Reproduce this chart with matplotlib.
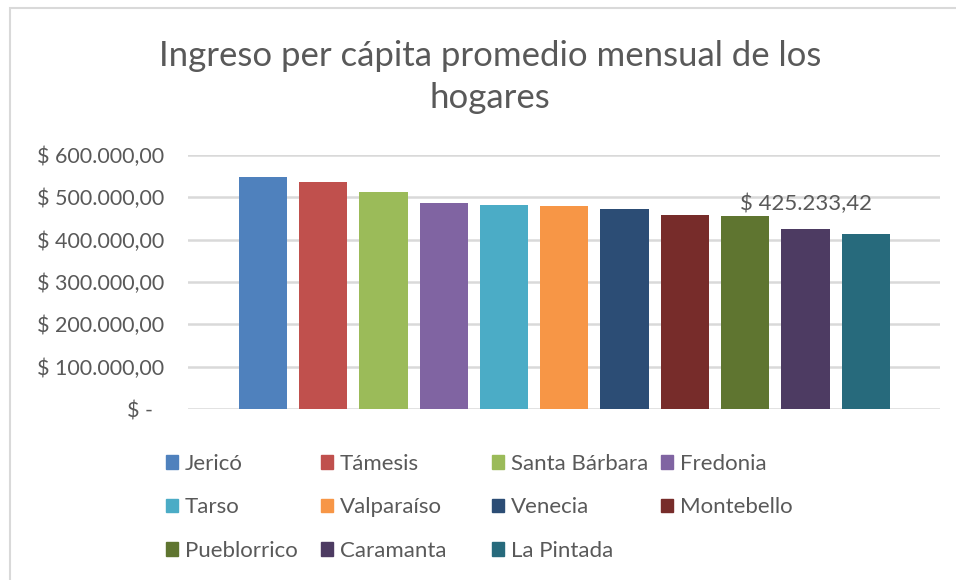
import numpy as np
import matplotlib.pyplot as plt
from matplotlib.patches import Patch, Rectangle

plt.rcParams['font.family'] = ['Lato', 'DejaVu Sans']

municipios = ['Jericó', 'Támesis', 'Santa Bárbara', 'Fredonia', 'Tarso', 'Valparaíso',
              'Venecia', 'Montebello', 'Pueblorrico', 'Caramanta', 'La Pintada']
ingreso = [549000, 537000, 513000, 486000, 483000, 480000,
           473000, 459000, 455000, 425233.42, 414000]
colores = ['#4f81bd', '#c0504d', '#9bbb59', '#8064a2', '#4bacc6', '#f79646',
           '#2c4d75', '#772c2a', '#5f7530', '#4d3b62', '#276a7c']
yticks = [0, 100000, 200000, 300000, 400000, 500000, 600000]

gris = '#595959'

fig = plt.figure(figsize=(9.56, 5.8), dpi=100)
# marco del grafico
fig.patches.append(Rectangle((10/956, -0.1), 1.2, 1 - 8/580 + 0.1, transform=fig.transFigure,
                             fill=False, edgecolor='#d9d9d9', linewidth=1.5))
ax = fig.add_axes([188/956, 1 - 409/580, (940-188)/956, (409-155)/580])

x = np.arange(len(municipios))
ax.bar(x, ingreso, width=0.8, color=colores, zorder=3)

def fmt(v):
    if v == 0:
        return '$ -  '
    s = f'{v:,.2f}'.replace(',', 'X').replace('.', ',').replace('X', '.')
    return '$ ' + s

ax.set_yticks(yticks)
ax.set_yticklabels([fmt(v) for v in yticks], fontsize=15.5, color=gris)
ax.set_ylim(0, 600000)
ax.set_xlim(-1.24, 11.23)
ax.set_xticks([])
ax.grid(axis='y', color='#d9d9d9', linewidth=1.8, zorder=0)
ax.tick_params(axis='y', length=0, pad=17)
for s in ax.spines.values():
    s.set_visible(False)

i = municipios.index('Caramanta')
ax.annotate(fmt(ingreso[i]), (x[i], ingreso[i]), xytext=(0, 11), textcoords='offset points',
            ha='center', va='bottom', fontsize=16, color=gris)

fig.text(490/956, 1 - 77/580, 'Ingreso per cápita promedio mensual de los\nhogares',
         ha='center', va='center', fontsize=25, color=gris, linespacing=1.38)

# leyenda: cuatro columnas, llenado por filas
col_x = [166, 321, 492, 661]
for c in range(4):
    idx = list(range(c, len(municipios), 4))
    fig.legend([Patch(color=colores[k]) for k in idx], [municipios[k] for k in idx],
               loc='upper left', bbox_to_anchor=(col_x[c]/956, 1 - 454/580),
               frameon=False, fontsize=16, labelcolor=gris, handlelength=0.55, handleheight=0.55,
               handletextpad=0.3, labelspacing=1.05, borderpad=0, borderaxespad=0)

plt.savefig('out.png')
